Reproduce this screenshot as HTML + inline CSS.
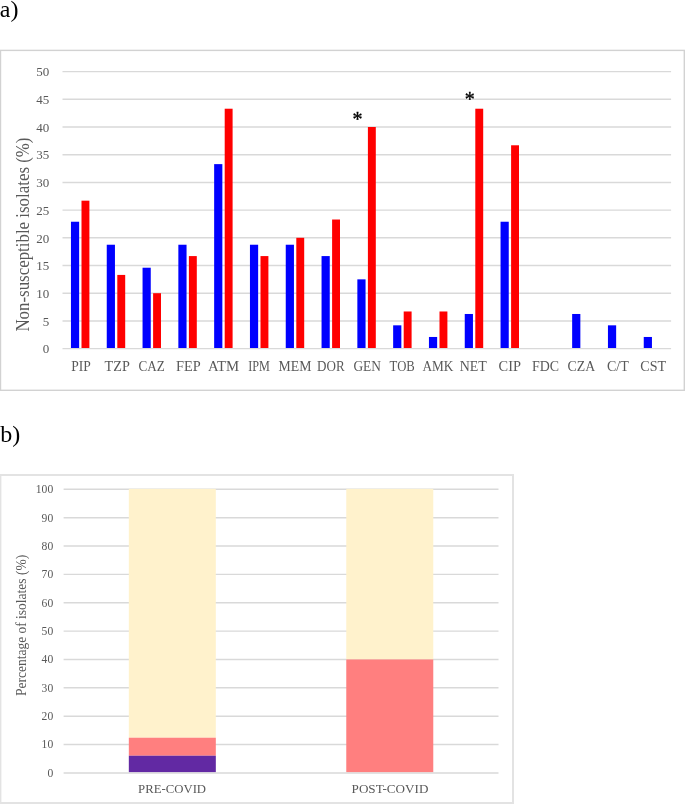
<!DOCTYPE html>
<html lang="en">
<head>
<meta charset="utf-8">
<title>Figure</title>
<style>
html,body{margin:0;padding:0;background:#fff;}
body{width:685px;height:804px;overflow:hidden;position:relative;}
svg{position:absolute;left:0;top:0;display:block;}
text{font-family:"Liberation Serif", serif;}
.tk{fill:#595959;}
</style>
</head>
<body>
<svg width="685" height="804" viewBox="0 0 685 804">
<text x="-0.2" y="16.5" font-size="24" fill="#000">a)</text>
<text x="0.3" y="441.6" font-size="24" fill="#000">b)</text>
<g id="chart-a">
<rect x="0.5" y="50.4" width="683.80" height="339.90" fill="#fff" stroke="#d2d2d2" stroke-width="1.4"/>
<line x1="62.50" y1="348.60" x2="671.10" y2="348.60" stroke="#d9d9d9" stroke-width="1.45"/>
<text class="tk" x="49.2" y="353.35" font-size="13" text-anchor="end">0</text>
<line x1="62.50" y1="320.90" x2="671.10" y2="320.90" stroke="#d9d9d9" stroke-width="1.45"/>
<text class="tk" x="49.2" y="325.65" font-size="13" text-anchor="end">5</text>
<line x1="62.50" y1="293.20" x2="671.10" y2="293.20" stroke="#d9d9d9" stroke-width="1.45"/>
<text class="tk" x="49.2" y="297.95" font-size="13" text-anchor="end">10</text>
<line x1="62.50" y1="265.50" x2="671.10" y2="265.50" stroke="#d9d9d9" stroke-width="1.45"/>
<text class="tk" x="49.2" y="270.25" font-size="13" text-anchor="end">15</text>
<line x1="62.50" y1="237.80" x2="671.10" y2="237.80" stroke="#d9d9d9" stroke-width="1.45"/>
<text class="tk" x="49.2" y="242.55" font-size="13" text-anchor="end">20</text>
<line x1="62.50" y1="210.10" x2="671.10" y2="210.10" stroke="#d9d9d9" stroke-width="1.45"/>
<text class="tk" x="49.2" y="214.85" font-size="13" text-anchor="end">25</text>
<line x1="62.50" y1="182.40" x2="671.10" y2="182.40" stroke="#d9d9d9" stroke-width="1.45"/>
<text class="tk" x="49.2" y="187.15" font-size="13" text-anchor="end">30</text>
<line x1="62.50" y1="154.70" x2="671.10" y2="154.70" stroke="#d9d9d9" stroke-width="1.45"/>
<text class="tk" x="49.2" y="159.45" font-size="13" text-anchor="end">35</text>
<line x1="62.50" y1="127.00" x2="671.10" y2="127.00" stroke="#d9d9d9" stroke-width="1.45"/>
<text class="tk" x="49.2" y="131.75" font-size="13" text-anchor="end">40</text>
<line x1="62.50" y1="99.30" x2="671.10" y2="99.30" stroke="#d9d9d9" stroke-width="1.45"/>
<text class="tk" x="49.2" y="104.05" font-size="13" text-anchor="end">45</text>
<line x1="62.50" y1="71.60" x2="671.10" y2="71.60" stroke="#d9d9d9" stroke-width="1.45"/>
<text class="tk" x="49.2" y="76.35" font-size="13" text-anchor="end">50</text>
<rect x="70.95" y="221.73" width="8.2" height="126.27" fill="#0000ff"/>
<rect x="81.50" y="200.68" width="7.9" height="147.32" fill="#ff0000"/>
<text class="tk" x="71.20" y="370.5" font-size="13.7" textLength="19.6" lengthAdjust="spacingAndGlyphs">PIP</text>
<rect x="106.75" y="244.73" width="8.2" height="103.27" fill="#0000ff"/>
<rect x="117.30" y="274.92" width="7.9" height="73.08" fill="#ff0000"/>
<text class="tk" x="104.60" y="370.5" font-size="13.7" textLength="25.2" lengthAdjust="spacingAndGlyphs">TZP</text>
<rect x="142.55" y="267.72" width="8.2" height="80.28" fill="#0000ff"/>
<rect x="153.10" y="293.20" width="7.9" height="54.80" fill="#ff0000"/>
<text class="tk" x="138.55" y="370.5" font-size="13.7" textLength="26.3" lengthAdjust="spacingAndGlyphs">CAZ</text>
<rect x="178.35" y="244.73" width="8.2" height="103.27" fill="#0000ff"/>
<rect x="188.90" y="256.08" width="7.9" height="91.92" fill="#ff0000"/>
<text class="tk" x="175.95" y="370.5" font-size="13.7" textLength="24.7" lengthAdjust="spacingAndGlyphs">FEP</text>
<rect x="214.15" y="164.12" width="8.2" height="183.88" fill="#0000ff"/>
<rect x="224.70" y="108.72" width="7.9" height="239.28" fill="#ff0000"/>
<text class="tk" x="207.95" y="370.5" font-size="13.7" textLength="31.1" lengthAdjust="spacingAndGlyphs">ATM</text>
<rect x="249.95" y="244.73" width="8.2" height="103.27" fill="#0000ff"/>
<rect x="260.50" y="256.08" width="7.9" height="91.92" fill="#ff0000"/>
<text class="tk" x="248.15" y="370.5" font-size="13.7" textLength="21.7" lengthAdjust="spacingAndGlyphs">IPM</text>
<rect x="285.75" y="244.73" width="8.2" height="103.27" fill="#0000ff"/>
<rect x="296.30" y="237.80" width="7.9" height="110.20" fill="#ff0000"/>
<text class="tk" x="278.55" y="370.5" font-size="13.7" textLength="32.9" lengthAdjust="spacingAndGlyphs">MEM</text>
<rect x="321.55" y="256.08" width="8.2" height="91.92" fill="#0000ff"/>
<rect x="332.10" y="219.52" width="7.9" height="128.48" fill="#ff0000"/>
<text class="tk" x="317.00" y="370.5" font-size="13.7" textLength="27.6" lengthAdjust="spacingAndGlyphs">DOR</text>
<rect x="357.35" y="279.35" width="8.2" height="68.65" fill="#0000ff"/>
<rect x="367.90" y="127.00" width="7.9" height="221.00" fill="#ff0000"/>
<text class="tk" x="353.45" y="370.5" font-size="13.7" textLength="27.5" lengthAdjust="spacingAndGlyphs">GEN</text>
<rect x="393.15" y="325.33" width="8.2" height="22.67" fill="#0000ff"/>
<rect x="403.70" y="311.48" width="7.9" height="36.52" fill="#ff0000"/>
<text class="tk" x="389.60" y="370.5" font-size="13.7" textLength="25.2" lengthAdjust="spacingAndGlyphs">TOB</text>
<rect x="428.95" y="336.97" width="8.2" height="11.03" fill="#0000ff"/>
<rect x="439.50" y="311.48" width="7.9" height="36.52" fill="#ff0000"/>
<text class="tk" x="422.40" y="370.5" font-size="13.7" textLength="31.0" lengthAdjust="spacingAndGlyphs">AMK</text>
<rect x="464.75" y="313.98" width="8.2" height="34.02" fill="#0000ff"/>
<rect x="475.30" y="108.72" width="7.9" height="239.28" fill="#ff0000"/>
<text class="tk" x="459.75" y="370.5" font-size="13.7" textLength="27.1" lengthAdjust="spacingAndGlyphs">NET</text>
<rect x="500.55" y="221.73" width="8.2" height="126.27" fill="#0000ff"/>
<rect x="511.10" y="145.28" width="7.9" height="202.72" fill="#ff0000"/>
<text class="tk" x="498.60" y="370.5" font-size="13.7" textLength="22.4" lengthAdjust="spacingAndGlyphs">CIP</text>
<text class="tk" x="532.05" y="370.5" font-size="13.7" textLength="27.1" lengthAdjust="spacingAndGlyphs">FDC</text>
<rect x="572.15" y="313.98" width="8.2" height="34.02" fill="#0000ff"/>
<text class="tk" x="567.50" y="370.5" font-size="13.7" textLength="27.6" lengthAdjust="spacingAndGlyphs">CZA</text>
<rect x="607.95" y="325.33" width="8.2" height="22.67" fill="#0000ff"/>
<text class="tk" x="606.90" y="370.5" font-size="13.7" textLength="21.8" lengthAdjust="spacingAndGlyphs">C/T</text>
<rect x="643.75" y="336.97" width="8.2" height="11.03" fill="#0000ff"/>
<text class="tk" x="640.30" y="370.5" font-size="13.7" textLength="25.8" lengthAdjust="spacingAndGlyphs">CST</text>
<text class="tk" transform="translate(28.7,331.6) rotate(-90) scale(0.928,1)" font-size="18.2">Non-susceptible isolates (%)</text>
<text x="357.4" y="125.6" font-size="20" fill="#000" stroke="#000" stroke-width="0.35" text-anchor="middle">*</text>
<text x="469.8" y="105.8" font-size="20" fill="#000" stroke="#000" stroke-width="0.35" text-anchor="middle">*</text>
</g>
<g id="chart-b">
<rect x="0.4" y="475.0" width="512.60" height="328.00" fill="#fff" stroke="#e3e3e3" stroke-width="2"/>
<line x1="63.60" y1="772.90" x2="498.50" y2="772.90" stroke="#d9d9d9" stroke-width="1.45"/>
<line x1="63.60" y1="744.54" x2="498.50" y2="744.54" stroke="#d9d9d9" stroke-width="1.45"/>
<line x1="63.60" y1="716.18" x2="498.50" y2="716.18" stroke="#d9d9d9" stroke-width="1.45"/>
<line x1="63.60" y1="687.82" x2="498.50" y2="687.82" stroke="#d9d9d9" stroke-width="1.45"/>
<line x1="63.60" y1="659.46" x2="498.50" y2="659.46" stroke="#d9d9d9" stroke-width="1.45"/>
<line x1="63.60" y1="631.10" x2="498.50" y2="631.10" stroke="#d9d9d9" stroke-width="1.45"/>
<line x1="63.60" y1="602.74" x2="498.50" y2="602.74" stroke="#d9d9d9" stroke-width="1.45"/>
<line x1="63.60" y1="574.38" x2="498.50" y2="574.38" stroke="#d9d9d9" stroke-width="1.45"/>
<line x1="63.60" y1="546.02" x2="498.50" y2="546.02" stroke="#d9d9d9" stroke-width="1.45"/>
<line x1="63.60" y1="517.66" x2="498.50" y2="517.66" stroke="#d9d9d9" stroke-width="1.45"/>
<line x1="63.60" y1="489.30" x2="498.50" y2="489.30" stroke="#d9d9d9" stroke-width="1.45"/>
<rect x="128.82" y="488.87" width="87.00" height="248.86" fill="#fff2cc"/>
<rect x="128.82" y="737.73" width="87.00" height="18.01" fill="#ff7f7f"/>
<rect x="128.82" y="755.74" width="87.00" height="16.36" fill="#6229a3"/>
<rect x="346.27" y="488.87" width="87.00" height="170.59" fill="#fff2cc"/>
<rect x="346.27" y="659.46" width="87.00" height="112.64" fill="#ff7f7f"/>
<text class="tk" x="53.2" y="776.80" font-size="11.6" text-anchor="end">0</text>
<text class="tk" x="53.2" y="748.44" font-size="11.6" text-anchor="end">10</text>
<text class="tk" x="53.2" y="720.08" font-size="11.6" text-anchor="end">20</text>
<text class="tk" x="53.2" y="691.72" font-size="11.6" text-anchor="end">30</text>
<text class="tk" x="53.2" y="663.36" font-size="11.6" text-anchor="end">40</text>
<text class="tk" x="53.2" y="635.00" font-size="11.6" text-anchor="end">50</text>
<text class="tk" x="53.2" y="606.64" font-size="11.6" text-anchor="end">60</text>
<text class="tk" x="53.2" y="578.28" font-size="11.6" text-anchor="end">70</text>
<text class="tk" x="53.2" y="549.92" font-size="11.6" text-anchor="end">80</text>
<text class="tk" x="53.2" y="521.56" font-size="11.6" text-anchor="end">90</text>
<text class="tk" x="53.2" y="493.20" font-size="11.6" text-anchor="end">100</text>
<text class="tk" x="138.1" y="792.8" font-size="12.8" textLength="68.0" lengthAdjust="spacingAndGlyphs">PRE-COVID</text>
<text class="tk" x="351.6" y="792.8" font-size="12.8" textLength="76.8" lengthAdjust="spacingAndGlyphs">POST-COVID</text>
<text class="tk" transform="translate(26.4,696) rotate(-90) scale(0.93,1)" font-size="14.5">Percentage of isolates (%)</text>
</g>
</svg>
</body>
</html>
